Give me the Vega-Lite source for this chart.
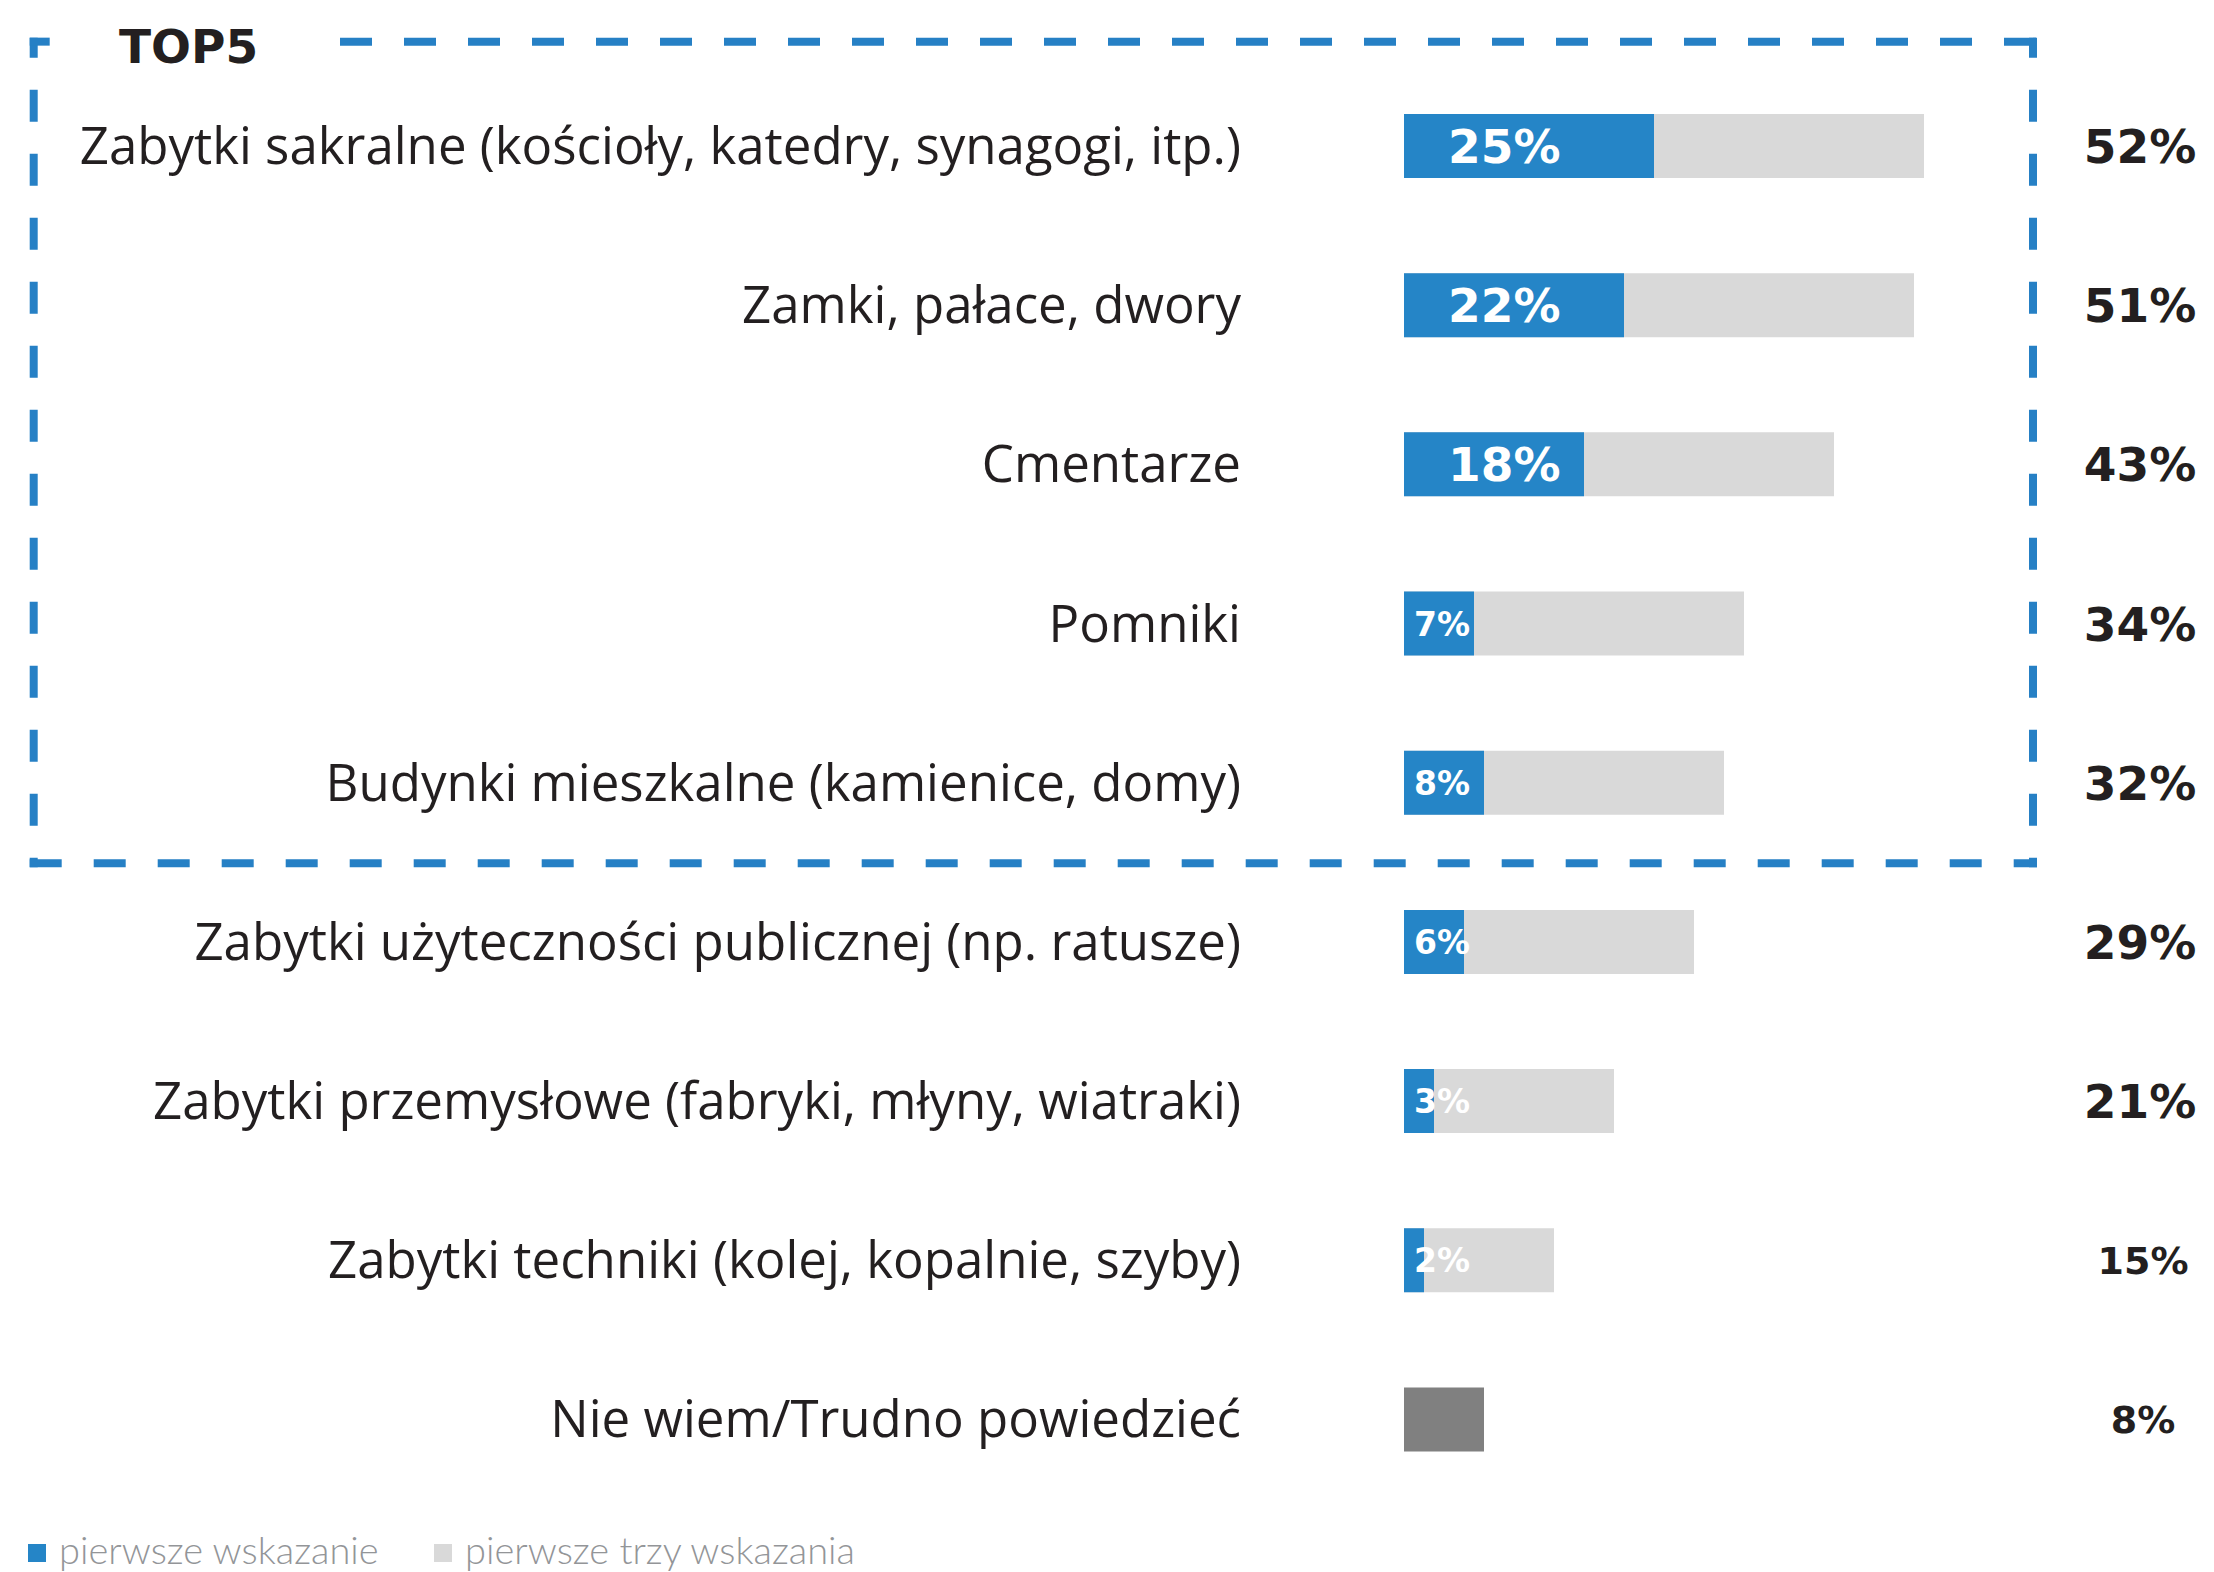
{
  "$schema": "https://vega.github.io/schema/vega-lite/v6.json",
  "width": 2214,
  "height": 1572,
  "autosize": {"type": "none"},
  "padding": 0,
  "background": "white",
  "config": {"view": {"stroke": null}},
  "data": {
    "values": [
      {"cat": "Zabytki sakralne (kościoły, katedry, synagogi, itp.)", "row": 1, "series": "pierwsze trzy wskazania", "value": 0.52},
      {"cat": "Zamki, pałace, dwory", "row": 2, "series": "pierwsze trzy wskazania", "value": 0.51},
      {"cat": "Cmentarze", "row": 3, "series": "pierwsze trzy wskazania", "value": 0.43},
      {"cat": "Pomniki", "row": 4, "series": "pierwsze trzy wskazania", "value": 0.34},
      {"cat": "Budynki mieszkalne (kamienice, domy)", "row": 5, "series": "pierwsze trzy wskazania", "value": 0.32},
      {"cat": "Zabytki użyteczności publicznej (np. ratusze)", "row": 6, "series": "pierwsze trzy wskazania", "value": 0.29},
      {"cat": "Zabytki przemysłowe (fabryki, młyny, wiatraki)", "row": 7, "series": "pierwsze trzy wskazania", "value": 0.21},
      {"cat": "Zabytki techniki (kolej, kopalnie, szyby)", "row": 8, "series": "pierwsze trzy wskazania", "value": 0.15},
      {"cat": "Nie wiem/Trudno powiedzieć", "row": 9, "series": "nie wiem", "value": 0.08},
      {"cat": "Zabytki sakralne (kościoły, katedry, synagogi, itp.)", "row": 1, "series": "pierwsze wskazanie", "value": 0.25},
      {"cat": "Zamki, pałace, dwory", "row": 2, "series": "pierwsze wskazanie", "value": 0.22},
      {"cat": "Cmentarze", "row": 3, "series": "pierwsze wskazanie", "value": 0.18},
      {"cat": "Pomniki", "row": 4, "series": "pierwsze wskazanie", "value": 0.07},
      {"cat": "Budynki mieszkalne (kamienice, domy)", "row": 5, "series": "pierwsze wskazanie", "value": 0.08},
      {"cat": "Zabytki użyteczności publicznej (np. ratusze)", "row": 6, "series": "pierwsze wskazanie", "value": 0.06},
      {"cat": "Zabytki przemysłowe (fabryki, młyny, wiatraki)", "row": 7, "series": "pierwsze wskazanie", "value": 0.03},
      {"cat": "Zabytki techniki (kolej, kopalnie, szyby)", "row": 8, "series": "pierwsze wskazanie", "value": 0.02}
    ]
  },
  "layer": [
    {
      "mark": {"type": "bar", "orient": "horizontal", "size": 64},
      "encoding": {
        "x": {"field": "value", "type": "quantitative", "scale": {"domain": [-1.404, 0.81], "nice": false, "zero": false}, "axis": null},
        "x2": {"datum": 0},
        "y": {"field": "row", "type": "quantitative", "scale": {"domain": [0.1142, 9.927], "reverse": true, "nice": false, "zero": false}, "axis": null},
        "color": {
          "field": "series",
          "type": "nominal",
          "scale": {"domain": ["pierwsze wskazanie", "pierwsze trzy wskazania", "nie wiem"], "range": ["#2585c7", "#d9d9d9", "#808080"]},
          "legend": {
            "values": ["pierwsze wskazanie", "pierwsze trzy wskazania"],
            "title": null,
            "orient": "none",
            "legendX": 18,
            "legendY": 1534,
            "direction": "horizontal",
            "symbolType": "square",
            "symbolSize": 324,
            "symbolStrokeWidth": 0,
            "labelFont": "Lato",
            "labelFontWeight": 300,
            "labelFontSize": 38,
            "labelColor": "#939598",
            "labelLimit": 0,
            "labelOffset": 3,
            "columnPadding": 44
          }
        }
      }
    },
    {
      "transform": [{"filter": "datum.series === 'pierwsze wskazanie' && datum.value >= 0.1"}],
      "mark": {"type": "text", "align": "left", "baseline": "alphabetic", "dx": 44, "dy": 17, "font": "DejaVu Sans", "fontWeight": "bold", "fontSize": 47, "color": "#ffffff"},
      "encoding": {
        "x": {"datum": 0, "type": "quantitative", "scale": {"domain": [-1.404, 0.81], "nice": false, "zero": false}, "axis": null},
        "y": {"field": "row", "type": "quantitative", "scale": {"domain": [0.1142, 9.927], "reverse": true, "nice": false, "zero": false}, "axis": null},
        "text": {"field": "value", "type": "quantitative", "format": ".0%"}
      }
    },
    {
      "transform": [{"filter": "datum.series === 'pierwsze wskazanie' && datum.value < 0.1"}],
      "mark": {"type": "text", "align": "left", "baseline": "alphabetic", "dx": 10, "dy": 12, "font": "DejaVu Sans", "fontWeight": "bold", "fontSize": 33, "color": "#ffffff"},
      "encoding": {
        "x": {"datum": 0, "type": "quantitative", "scale": {"domain": [-1.404, 0.81], "nice": false, "zero": false}, "axis": null},
        "y": {"field": "row", "type": "quantitative", "scale": {"domain": [0.1142, 9.927], "reverse": true, "nice": false, "zero": false}, "axis": null},
        "text": {"field": "value", "type": "quantitative", "format": ".0%"}
      }
    },
    {
      "transform": [{"filter": "datum.series !== 'pierwsze wskazanie'"}],
      "mark": {"type": "text", "align": "right", "baseline": "alphabetic", "dy": 18, "font": "Open Sans", "fontSize": 51, "color": "#231f20"},
      "encoding": {
        "x": {"datum": -0.163, "type": "quantitative", "scale": {"domain": [-1.404, 0.81], "nice": false, "zero": false}, "axis": null},
        "y": {"field": "row", "type": "quantitative", "scale": {"domain": [0.1142, 9.927], "reverse": true, "nice": false, "zero": false}, "axis": null},
        "text": {"field": "cat", "type": "nominal"}
      }
    },
    {
      "transform": [{"filter": "datum.series !== 'pierwsze wskazanie' && datum.value >= 0.2"}],
      "mark": {"type": "text", "align": "center", "baseline": "alphabetic", "dy": 17, "font": "DejaVu Sans", "fontWeight": "bold", "fontSize": 47, "color": "#231f20"},
      "encoding": {
        "x": {"datum": 0.736, "type": "quantitative", "scale": {"domain": [-1.404, 0.81], "nice": false, "zero": false}, "axis": null},
        "y": {"field": "row", "type": "quantitative", "scale": {"domain": [0.1142, 9.927], "reverse": true, "nice": false, "zero": false}, "axis": null},
        "text": {"field": "value", "type": "quantitative", "format": ".0%"}
      }
    },
    {
      "transform": [{"filter": "datum.series !== 'pierwsze wskazanie' && datum.value < 0.2"}],
      "mark": {"type": "text", "align": "center", "baseline": "alphabetic", "dy": 14, "font": "DejaVu Sans", "fontWeight": "bold", "fontSize": 38, "color": "#231f20"},
      "encoding": {
        "x": {"datum": 0.739, "type": "quantitative", "scale": {"domain": [-1.404, 0.81], "nice": false, "zero": false}, "axis": null},
        "y": {"field": "row", "type": "quantitative", "scale": {"domain": [0.1142, 9.927], "reverse": true, "nice": false, "zero": false}, "axis": null},
        "text": {"field": "value", "type": "quantitative", "format": ".0%"}
      }
    },
    {
      "data": {"values": [{"label": "TOP5"}]},
      "mark": {"type": "text", "align": "left", "baseline": "alphabetic", "dy": 17, "font": "DejaVu Sans", "fontWeight": "bold", "fontSize": 47, "color": "#231f20"},
      "encoding": {
        "x": {"datum": -1.285, "type": "quantitative", "scale": {"domain": [-1.404, 0.81], "nice": false, "zero": false}, "axis": null},
        "y": {"datum": 0.374, "type": "quantitative", "scale": {"domain": [0.1142, 9.927], "reverse": true, "nice": false, "zero": false}, "axis": null},
        "text": {"field": "label", "type": "nominal"}
      }
    },
    {
      "data": {"values": [{}]},
      "mark": {"type": "rule", "color": "#2680c5", "strokeWidth": 8, "strokeDash": [32, 32], "strokeDashOffset": 12},
      "encoding": {
        "x": {"datum": -1.3703, "type": "quantitative", "scale": {"domain": [-1.404, 0.81], "nice": false, "zero": false}, "axis": null},
        "y": {"datum": 0.3193, "type": "quantitative", "scale": {"domain": [0.1142, 9.927], "reverse": true, "nice": false, "zero": false}, "axis": null},
        "y2": {"datum": 5.531}
      }
    },
    {
      "data": {"values": [{}]},
      "mark": {"type": "rule", "color": "#2680c5", "strokeWidth": 8, "strokeDash": [32, 32], "strokeDashOffset": 12},
      "encoding": {
        "x": {"datum": 0.629, "type": "quantitative", "scale": {"domain": [-1.404, 0.81], "nice": false, "zero": false}, "axis": null},
        "y": {"datum": 0.3193, "type": "quantitative", "scale": {"domain": [0.1142, 9.927], "reverse": true, "nice": false, "zero": false}, "axis": null},
        "y2": {"datum": 5.531}
      }
    },
    {
      "data": {"values": [{}]},
      "mark": {"type": "rule", "color": "#2680c5", "strokeWidth": 8},
      "encoding": {
        "x": {"datum": -1.3743, "type": "quantitative", "scale": {"domain": [-1.404, 0.81], "nice": false, "zero": false}, "axis": null},
        "x2": {"datum": -1.3543},
        "y": {"datum": 0.3444, "type": "quantitative", "scale": {"domain": [0.1142, 9.927], "reverse": true, "nice": false, "zero": false}, "axis": null}
      }
    },
    {
      "data": {"values": [{}]},
      "mark": {"type": "rule", "color": "#2680c5", "strokeWidth": 8, "strokeDash": [32, 32]},
      "encoding": {
        "x": {"datum": -1.064, "type": "quantitative", "scale": {"domain": [-1.404, 0.81], "nice": false, "zero": false}, "axis": null},
        "x2": {"datum": 0.633},
        "y": {"datum": 0.3444, "type": "quantitative", "scale": {"domain": [0.1142, 9.927], "reverse": true, "nice": false, "zero": false}, "axis": null}
      }
    },
    {
      "data": {"values": [{}]},
      "mark": {"type": "rule", "color": "#2680c5", "strokeWidth": 8, "strokeDash": [32, 32]},
      "encoding": {
        "x": {"datum": -1.3743, "type": "quantitative", "scale": {"domain": [-1.404, 0.81], "nice": false, "zero": false}, "axis": null},
        "x2": {"datum": 0.633},
        "y": {"datum": 5.506, "type": "quantitative", "scale": {"domain": [0.1142, 9.927], "reverse": true, "nice": false, "zero": false}, "axis": null}
      }
    }
  ]
}
